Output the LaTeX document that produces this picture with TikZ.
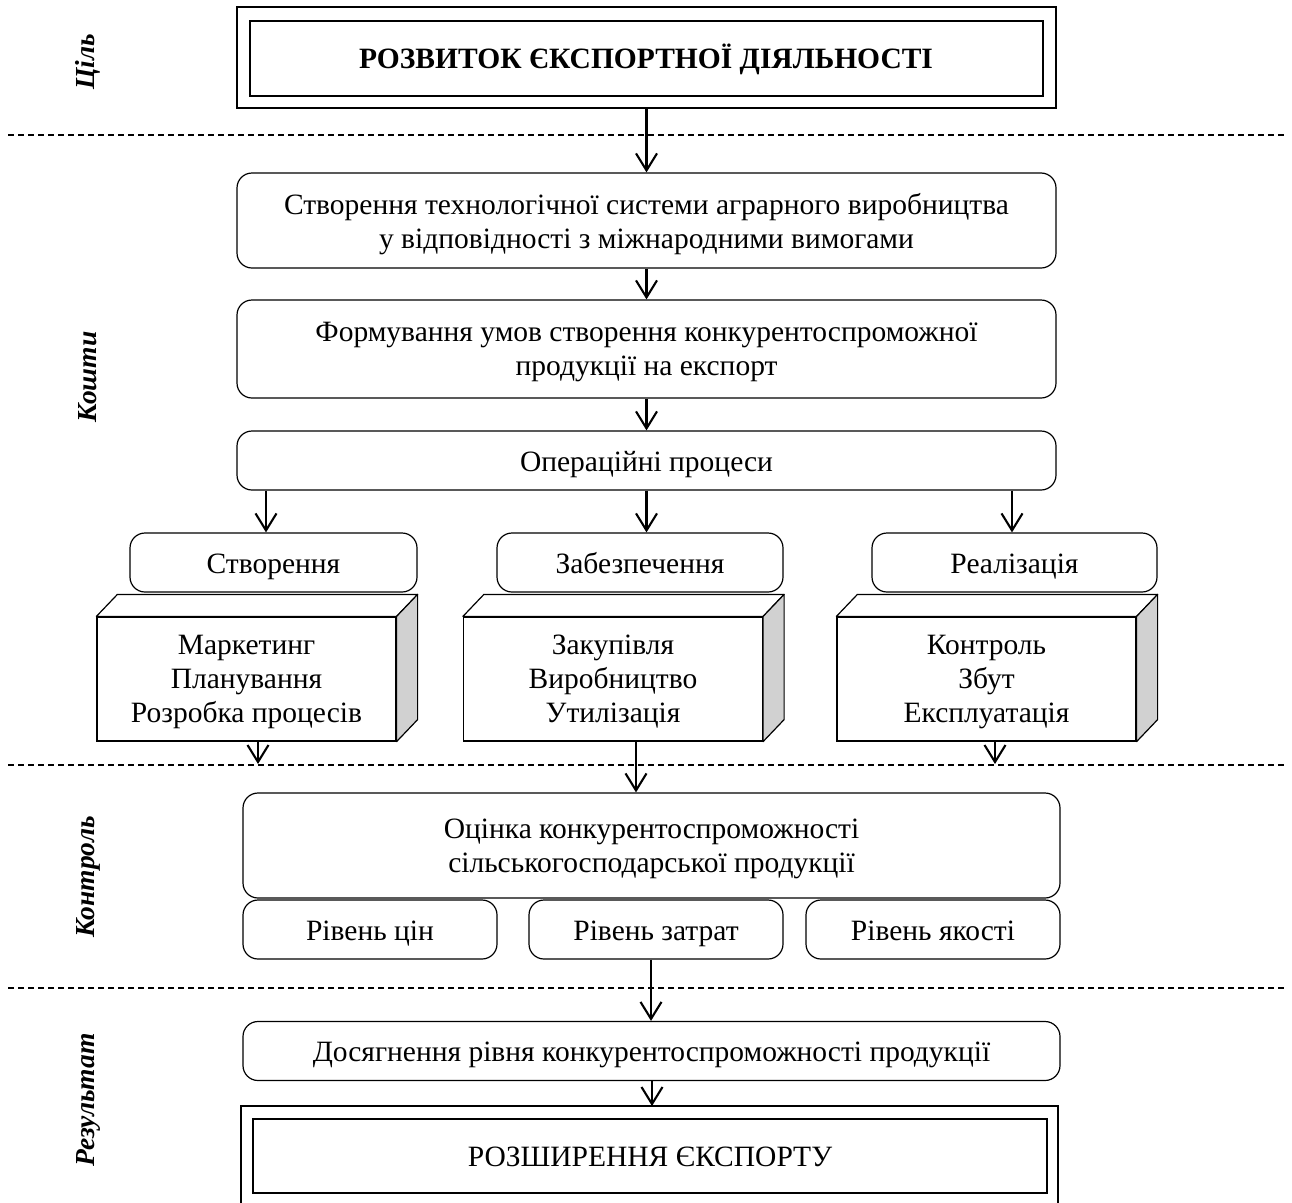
\documentclass[tikz,border=0pt]{standalone}
\usepackage{fontspec}
\setmainfont{Liberation Serif}
\usetikzlibrary{arrows.meta,calc}
\begin{document}
\begin{tikzpicture}[x=1pt,y=1pt,
  every node/.style={font=\fontsize{29.5}{34}\selectfont, inner sep=0pt, align=center},
  one/.style={text height=24pt, text depth=3pt},
  multi/.style={text depth=0pt},
  rbox/.style={draw, line width=1.2pt, rounded corners=15pt},
  pbox/.style={draw, line width=1.2pt},
  arr/.style={line width=2.1pt, -{Straight Barb[length=17pt,width=21pt]}},
  sep/.style={dash pattern=on 6pt off 4pt, line width=1.1pt},
  side/.style={font=\fontsize{27.5}{30}\selectfont\bfseries\itshape, rotate=90}]
\useasboundingbox (0,0) rectangle (1292,-1202);
% dashed separators
\coordinate (d1l) at (8,-135);   \coordinate (d1r) at (1286,-135);
\coordinate (d2l) at (8,-765);   \coordinate (d2r) at (1286,-765);
\coordinate (d3l) at (8,-988);   \coordinate (d3r) at (1286,-988);
\draw[sep] (d1l) -- (d1r);
\draw[sep] (d2l) -- (d2r);
\draw[sep] (d3l) -- (d3r);
% side labels
\node[side] (lab1) at (88,-62) {Ціль};
\node[side] (lab2) at (88,-377) {Кошти};
\node[side] (lab3) at (88,-877) {Контроль};
\node[side] (lab4) at (88,-1100) {Результат};
% top double box
\node[pbox, minimum width=819pt, minimum height=101pt] (topout) at (646.5,-57.5) {};
\node[draw, one, line width=2pt, minimum width=793pt, minimum height=75pt, font=\fontsize{29.5}{34}\selectfont\bfseries] (topin) at (646,-58) {РОЗВИТОК ЄКСПОРТНОЇ ДІЯЛЬНОСТІ};
% main column
\node[rbox, multi, minimum width=819pt, minimum height=95pt] (b2) at (646.5,-220.5) {Створення технологічної системи аграрного виробництва\\у відповідності з міжнародними вимогами};
\node[rbox, multi, minimum width=819pt, minimum height=98pt] (b3) at (646.5,-349) {Формування умов створення конкурентоспроможної\\продукції на експорт};
\node[rbox, one, minimum width=819pt, minimum height=59pt] (b4) at (646.5,-460.5) {Операційні процеси};
% sub boxes
\node[rbox, one, minimum width=287pt, minimum height=59pt] (s1) at (273.5,-562.5) {Створення};
\node[rbox, one, minimum width=286pt, minimum height=59pt] (s2) at (640,-562.5) {Забезпечення};
\node[rbox, one, minimum width=285pt, minimum height=59pt] (s3) at (1014.5,-562.5) {Реалізація};
% cubes
\foreach \n/\cx in {c1/246.5, c2/613, c3/986.5}{
  \node[pbox, fill=white, minimum width=299pt, minimum height=124pt] (\n) at (\cx,-679) {};
  \draw[line width=1.2pt, fill=white, line join=round] (\n.north west) -- ++(21,22) -- ($(\n.north east)+(21,22)$) -- (\n.north east) -- cycle;
  \draw[line width=1.2pt, fill=black!18, line join=round] (\n.north east) -- ++(21,22) -- ($(\n.south east)+(21,22)$) -- (\n.south east) -- cycle;
}
\node[multi] (t1) at (c1) {Маркетинг\\Планування\\Розробка процесів};
\node[multi] (t2) at (c2) {Закупівля\\Виробництво\\Утилізація};
\node[multi] (t3) at (c3) {Контроль\\Збут\\Експлуатація};
% evaluation
\node[rbox, multi, minimum width=817pt, minimum height=105pt] (ev) at (651.5,-845.5) {Оцінка конкурентоспроможності\\сільськогосподарської продукції};
\node[rbox, one, minimum width=254pt, minimum height=59pt] (r1) at (370,-929.5) {Рівень цін};
\node[rbox, one, minimum width=254pt, minimum height=59pt] (r2) at (656,-929.5) {Рівень затрат};
\node[rbox, one, minimum width=254pt, minimum height=59pt] (r3) at (933,-929.5) {Рівень якості};
% result
\node[rbox, one, minimum width=817pt, minimum height=59pt] (dos) at (651.5,-1051) {Досягнення рівня конкурентоспроможності продукції};
\node[draw, one, line width=2pt, minimum width=794pt, minimum height=74pt] (botin) at (650,-1156) {РОЗШИРЕННЯ ЄКСПОРТУ};
\coordinate (botoutl) at (241,-1106);
\coordinate (botoutr) at (1058,-1106);
\coordinate (botouttop) at (652,-1106);
\draw[line width=1.2pt] (241,-1210) -- (botoutl) -- (botoutr) -- (1058,-1210);
% x references for arrows
\coordinate (xa) at (266,0);
\coordinate (xb) at (1012,0);
\coordinate (xc) at (258,0);
\coordinate (xd) at (636,0);
\coordinate (xe) at (995,0);
\coordinate (xf) at (651,0);
\coordinate (xg) at (652,0);
\coordinate (tl) at (258,-764);
\coordinate (tr) at (995,-764);
% arrows
\draw[arr] (topout.south) -- (b2.north);
\draw[arr] (b2.south) -- (b3.north);
\draw[arr] (b3.south) -- (b4.north);
\draw[arr] (b4.south -| xa) -- (s1.north -| xa);
\draw[arr] (b4.south) -- (s2.north -| b4.south);
\draw[arr] (b4.south -| xb) -- (s3.north -| xb);
\draw[arr] (c1.south -| xc) -- (tl);
\draw[arr] (c2.south -| xd) -- (ev.north -| xd);
\draw[arr] (c3.south -| xe) -- (tr);
\draw[arr] (r2.south -| xf) -- (dos.north -| xf);
\draw[arr] (dos.south -| xg) -- (botouttop);
\end{tikzpicture}
\end{document}
